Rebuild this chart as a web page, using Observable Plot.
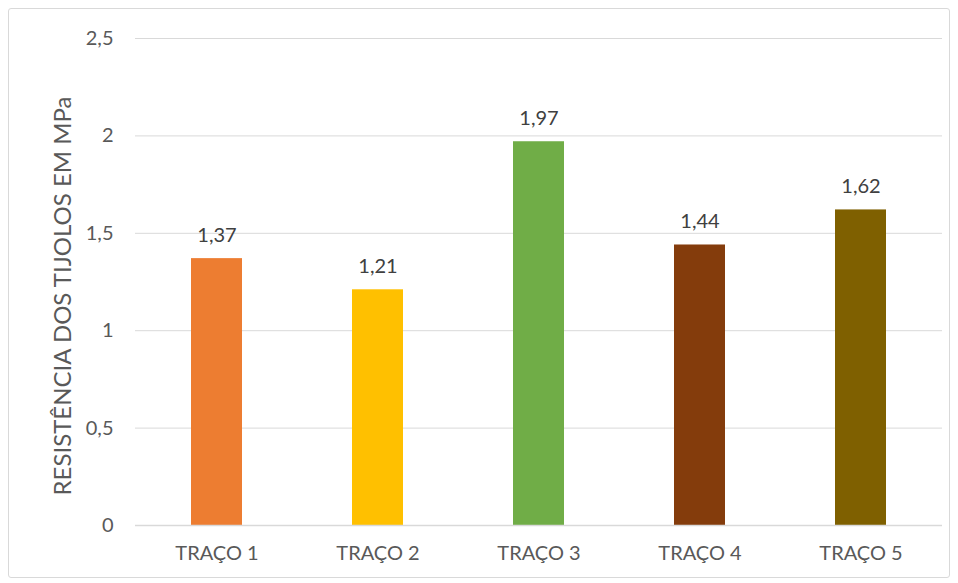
<!DOCTYPE html>
<html>
<head>
<meta charset="utf-8">
<script src="https://cdn.jsdelivr.net/npm/d3@7"></script>
<script src="https://cdn.jsdelivr.net/npm/@observablehq/plot@0.6"></script>
<style>
  html, body { margin: 0; padding: 0; background: #fff; }
  #wrap { position: relative; width: 958px; height: 583px; overflow: hidden; }
  #border { position: absolute; left: 8px; top: 8px; width: 940px; height: 568px; border: 1.5px solid #d9d9d9; border-radius: 3px; pointer-events: none; }
  #chart { position: absolute; left: 0; top: 0; }
</style>
</head>
<body>
<div id="wrap"><div id="chart"></div><div id="border"></div></div>
<script>
const categories = ["TRAÇO 1", "TRAÇO 2", "TRAÇO 3", "TRAÇO 4", "TRAÇO 5"];
const values = [1.37, 1.21, 1.97, 1.44, 1.62];
const labels = ["1,37", "1,21", "1,97", "1,44", "1,62"];
const colors = ["#ED7D31", "#FFC000", "#70AD47", "#843C0C", "#7F6000"];
const yTicks = [0, 0.5, 1, 1.5, 2, 2.5];
const yTickLabels = ["0", "0,5", "1", "1,5", "2", "2,5"];
const yLabel = "RESISTÊNCIA DOS TIJOLOS EM MPa";

const data = categories.map((c, i) => ({cat: c, value: values[i], label: labels[i], color: colors[i]}));
const font = "Lato, 'Open Sans', sans-serif";

const plot = Plot.plot({
  width: 958,
  height: 583,
  marginLeft: 135,
  marginRight: 16,
  marginTop: 38,
  marginBottom: 58,
  style: {fontFamily: font, fontSize: "20px", color: "#595959", background: "transparent"},
  x: {domain: categories, paddingInner: 0.684, paddingOuter: 0.342, label: null},
  y: {domain: [0, 2.5], label: null},
  marks: [
    Plot.ruleY(yTicks.filter(d => d > 0), {stroke: "#d9d9d9", strokeWidth: 1}),
    Plot.barY(data, {x: "cat", y: "value", fill: "color"}),
    Plot.ruleY([0], {stroke: "#d9d9d9", strokeWidth: 1.5}),
    Plot.text(data, {x: "cat", y: "value", text: "label", dy: -23, fill: "#404040", fontSize: 20}),
    Plot.axisX({tickSize: 0, tickPadding: 20, fontSize: 20, fill: "#595959", label: null}),
    Plot.axisY({ticks: yTicks, tickFormat: (d) => yTickLabels[yTicks.indexOf(d)], tickSize: 0, tickPadding: 22, fontSize: 20, fill: "#595959", label: null}),
    Plot.text([yLabel], {frameAnchor: "left", textAnchor: "middle", dx: -72, dy: 14, rotate: -90, fontSize: 24, fill: "#595959", text: d => d})
  ]
});
document.getElementById("chart").appendChild(plot);
</script>
</body>
</html>
